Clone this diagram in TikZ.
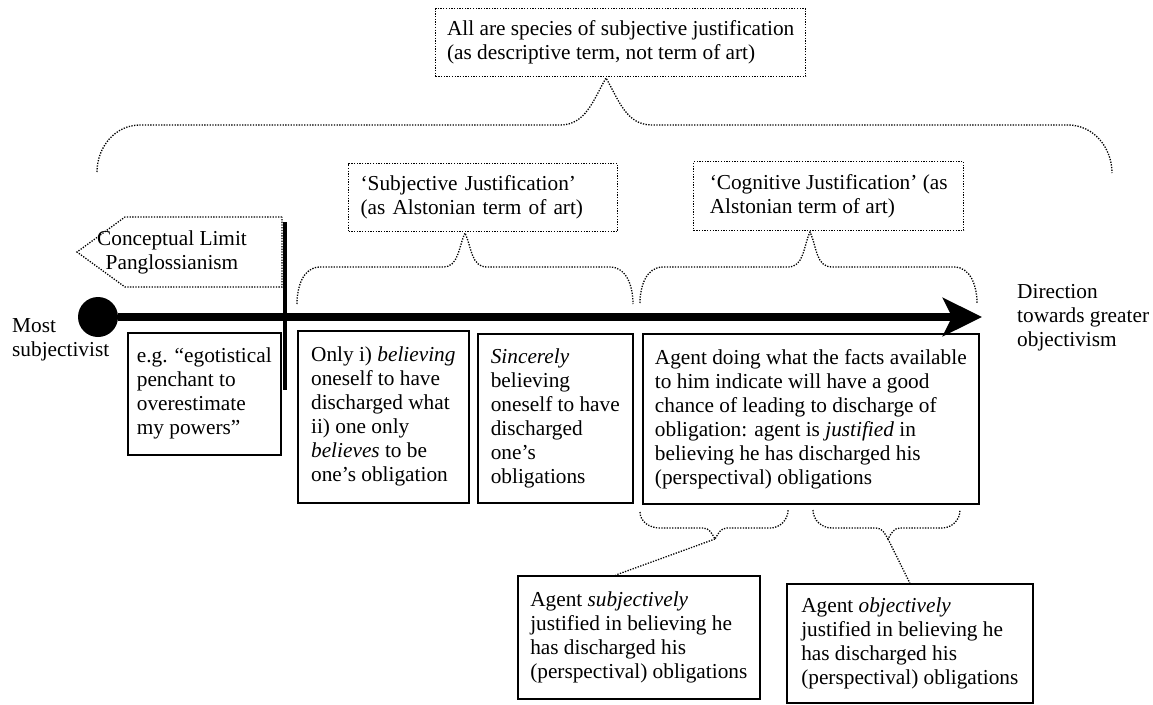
\documentclass[tikz,border=0pt]{standalone}
\usepackage{fontspec}
\setmainfont{Liberation Serif}
\usetikzlibrary{arrows.meta}
\newcommand{\diagfont}{\fontsize{21.3}{24}\selectfont}

\begin{document}
\begin{tikzpicture}[x = 1pt, y = -1pt, font = \diagfont,
	card/.style = {draw, line width = 1.6pt, align = left, anchor = north west, inner sep = 0pt},
	dots/.style = {line width = 1.3pt, dash pattern = on 1.3pt off 1.4pt},
	note/.style = {card, dots},
	plain/.style = {align = left, inner sep = 0pt, anchor = west}]
		\useasboundingbox (0, 0) rectangle (1153, 704);
		%%%%%%%%%%%%%
		\node [note, minimum width = 370pt, minimum height = 68pt] (all) at (435, 8) {All are species of subjective justification\\(as descriptive term, not term of art)};
		\node [note, inner xsep = 12pt, text width = 245pt, minimum height = 68pt] (subj) at (348, 163) {‘Subjective Justification’\\(as Alstonian term of art)};
		\node [note, minimum width = 270pt, minimum height = 69pt] (cogn) at (693, 161) {‘Cognitive Justification’ (as\\Alstonian term of art)};
		\node [align = center, inner sep = 0pt] (limit) at (172, 252) {Conceptual Limit\\Panglossianism};
		%%%%%%%%%%%%%
		\node [circle, fill, inner sep = 0pt, minimum size = 40pt] (dot) at (98, 317) {};
		\coordinate (far) at (982, 317);
		\node [plain] (most) at (12, 340) {Most\\subjectivist};
		\node [plain] (dir) at (1017, 318) {Direction\\towards greater\\objectivism};
		%%%%%%%%%%%%%
		\node [card, minimum width = 153pt, minimum height = 122pt] (eg) at (127, 332) {e.g. “egotistical\\penchant to\\overestimate\\my powers”};
		\node [card, minimum width = 171pt, minimum height = 172pt] (only) at (297, 330) {Only i) \emph{believing}\\oneself to have\\discharged what\\ii) one only\\\emph{believes} to be\\one’s obligation};
		\node [card, minimum width = 155pt, minimum height = 169pt] (sinc) at (477, 333) {\emph{Sincerely}\\believing\\oneself to have\\discharged\\one’s\\obligations};
		\node [card, minimum width = 336pt, minimum height = 170pt] (agent) at (642, 333) {Agent doing what the facts available\\to him indicate will have a good\\chance of leading to discharge of\\obligation: agent is \emph{justified} in\\believing he has discharged his\\(perspectival) obligations};
		\node [card, minimum width = 242pt, minimum height = 123pt] (sub1) at (517, 575) {Agent \emph{subjectively}\\justified in believing he\\has discharged his\\(perspectival) obligations};
		\node [card, minimum width = 246pt, minimum height = 119pt] (sub2) at (786, 583) {Agent \emph{objectively}\\justified in believing he\\has discharged his\\(perspectival) obligations};
		%%%%%%%%%%%%%
		\draw [line width = 8pt, -{Stealth[length = 39pt, width = 38pt, inset = 9pt]}] (dot) to (far);
		\draw [line width = 4pt] (285, 222) to (285, 390);
		\draw [dots] (282, 217) to (125, 217) to (77, 252) to (125, 287) to (282, 287) to cycle;
		%%%%%%%%%%%%%
		\draw [dots] (97, 172) to[out = 90, in = 180] (140, 125) to (560, 125) to[out = 0, in = -120] (606, 78) to[out = -60, in = 180] (652, 125) to (1068, 125) to[out = 0, in = 90] (1112, 173);
		\draw [dots] (297, 304) to[out = 90, in = 180] (320, 267) to (443, 267) to[out = 0, in = -115] (465, 233) to[out = -65, in = 180] (487, 267) to (610, 267) to[out = 0, in = 90] (633, 304);
		\draw [dots] (640, 303) to[out = 90, in = 180] (663, 267) to (788, 267) to[out = 0, in = -115] (810, 232) to[out = -65, in = 180] (832, 267) to (954, 267) to[out = 0, in = 90] (977, 303);
		\draw [dots] (640, 512) to[out = -90, in = 180] (660, 528) to (703, 528) to[out = 0, in = 120] (715, 539) to[out = 60, in = 180] (727, 528) to (770, 528) to[out = 0, in = -90] (788, 510);
		\draw [dots] (813, 510) to[out = -90, in = 180] (832, 528) to (876, 528) to[out = 0, in = 120] (888, 539) to[out = 60, in = 180] (900, 528) to (942, 528) to[out = 0, in = -90] (960, 510);
		%%%%%%%%%%%%%
		\coordinate (fork1) at (715, 539);
		\coordinate (fork2) at (888, 539);
		\draw [dots] (fork1) to ([xshift = -23pt] sub1.north);
		\draw [dots] (fork2) to (sub2.north);
\end{tikzpicture}
\end{document}
